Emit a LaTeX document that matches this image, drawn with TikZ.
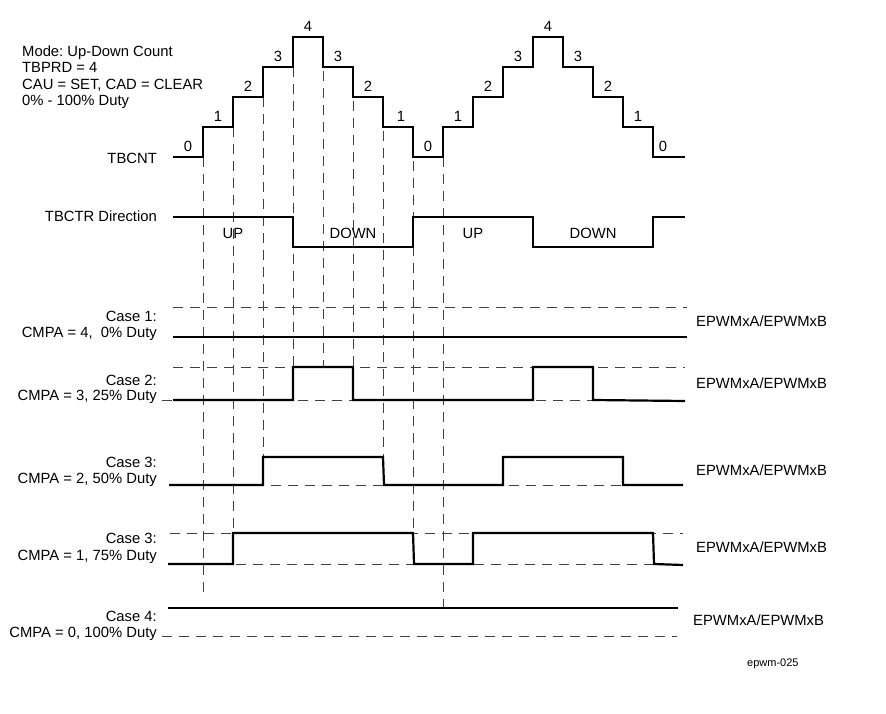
\documentclass[tikz,border=0pt]{standalone}
\usepackage{fontspec}
\setmainfont{Liberation Sans}
\usetikzlibrary{arrows}
\frenchspacing

\begin{document}
\begin{tikzpicture}[x=1pt,y=-1pt,
  sig/.style={line width=2.2pt},
  grid/.style={black!75, line width=0.9pt, dash pattern=on 10pt off 7pt},
  txt/.style={font=\fontsize{14.8}{16.6}\selectfont, inner sep=0pt},
  cnt/.style={txt, anchor=base}]

\useasboundingbox (0,0) rectangle (886,714);

% dashed guides
\draw[grid] (203,157) -- (203,593);
\draw[grid] (233,127) -- (233,533);
\draw[grid] (263,97) -- (263,457);
\draw[grid] (293,67) -- (293,367);
\draw[grid] (323,37) -- (323,367);
\draw[grid] (353,67) -- (353,367);
\draw[grid] (383,97) -- (383,457);
\draw[grid] (413,127) -- (413,533);
\draw[grid] (443,157) -- (443,608);

\draw[grid] (173,307) -- (687,307);
\draw[grid] (173,367) -- (685,367);
\draw[grid] (162,400) -- (685,400);
\draw[grid] (169,485) -- (683,485);
\draw[grid] (170,533) -- (683,533);
\draw[grid] (168,564) -- (683,564);
\draw[grid] (162,636) -- (677,636);

% counter
\draw[sig] (173,157) -- (203,157) -- (203,127) -- (233,127) -- (233,97) -- (263,97) -- (263,67) -- (293,67) -- (293,37) -- (323,37) -- (323,67) -- (353,67) -- (353,97) -- (383,97) -- (383,127) -- (413,127) -- (413,157) -- (443,157) -- (443,127) -- (473,127) -- (473,97) -- (503,97) -- (503,67) -- (533,67) -- (533,37) -- (563,37) -- (563,67) -- (593,67) -- (593,97) -- (623,97) -- (623,127) -- (653,127) -- (653,157) -- (685,157);

\node[cnt] (c0a) at (188,152) {0};
\node[cnt] (c1a) at (218,122) {1};
\node[cnt] (c2a) at (248,92) {2};
\node[cnt] (c3a) at (278,62) {3};
\node[cnt] (c4a) at (308,32) {4};
\node[cnt] (c3b) at (338,62) {3};
\node[cnt] (c2b) at (368,92) {2};
\node[cnt] (c1b) at (401,122) {1};
\node[cnt] (c0b) at (428,152) {0};
\node[cnt] (c1c) at (458,122) {1};
\node[cnt] (c2c) at (488,92) {2};
\node[cnt] (c3c) at (518,62) {3};
\node[cnt] (c4b) at (548,32) {4};
\node[cnt] (c3d) at (578,62) {3};
\node[cnt] (c2d) at (608,92) {2};
\node[cnt] (c1d) at (638,122) {1};
\node[cnt] (c0c) at (663,152) {0};

% direction
\draw[sig] (173,217) -- (293,217) -- (293,247) -- (413,247) -- (413,217) -- (533,217) -- (533,247) -- (653,247) -- (653,217) -- (685,217);
\node[cnt] (up1) at (233,239) {UP};
\node[cnt] (down1) at (353,239) {DOWN};
\node[cnt] (up2) at (473,239) {UP};
\node[cnt] (down2) at (593,239) {DOWN};

% outputs
\draw[sig] (173,337) -- (687,337);
\draw[sig] (173,400) -- (293,400) -- (293,367) -- (353,367) -- (353,400) -- (533,400) -- (533,367) -- (593,367) -- (593,400) -- (685,401);
\draw[sig] (169,485) -- (263,485) -- (263,457) -- (383,457) -- (384,485) -- (503,485) -- (503,457) -- (623,457) -- (623,485) -- (683,485);
\draw[sig] (168,564) -- (233,564) -- (233,533) -- (413,533) -- (414,564) -- (473,564) -- (473,533) -- (653,533) -- (654,564) -- (683,565);
\draw[sig] (168,608) -- (678,608);

% labels
\node[txt, anchor=base west, align=left] (mode) at (22,106) {Mode: Up-Down Count\\TBPRD = 4\\CAU = SET, CAD = CLEAR\\0\% - 100\% Duty};
\node[txt, anchor=base east] (tbcnt) at (157,164) {TBCNT};
\node[txt, anchor=base east] (tbctr) at (157,222) {TBCTR Direction};

\node[txt, anchor=base east] (case1) at (157,321) {Case 1:};
\node[txt, anchor=base east] (cmpa4) at (157,337) {CMPA = 4,\ \ 0\% Duty};
\node[txt, anchor=base east] (case2) at (157,385) {Case 2:};
\node[txt, anchor=base east] (cmpa3) at (157,400) {CMPA = 3, 25\% Duty};
\node[txt, anchor=base east] (case3a) at (157,467) {Case 3:};
\node[txt, anchor=base east] (cmpa2) at (157,483) {CMPA = 2, 50\% Duty};
\node[txt, anchor=base east] (case3b) at (157,543) {Case 3:};
\node[txt, anchor=base east] (cmpa1) at (157,560) {CMPA = 1, 75\% Duty};
\node[txt, anchor=base east] (case4) at (157,621) {Case 4:};
\node[txt, anchor=base east] (cmpa0) at (157,637) {CMPA = 0, 100\% Duty};

\node[txt, anchor=base west] (out1) at (696,326) {EPWMxA/EPWMxB};
\node[txt, anchor=base west] (out2) at (696,388) {EPWMxA/EPWMxB};
\node[txt, anchor=base west] (out3) at (696,475) {EPWMxA/EPWMxB};
\node[txt, anchor=base west] (out4) at (696,552) {EPWMxA/EPWMxB};
\node[txt, anchor=base west] (out5) at (693,625) {EPWMxA/EPWMxB};
\node[font=\fontsize{11}{13}\selectfont, inner sep=0pt, anchor=base west] (tag) at (747,666) {epwm-025};

\end{tikzpicture}
\end{document}
